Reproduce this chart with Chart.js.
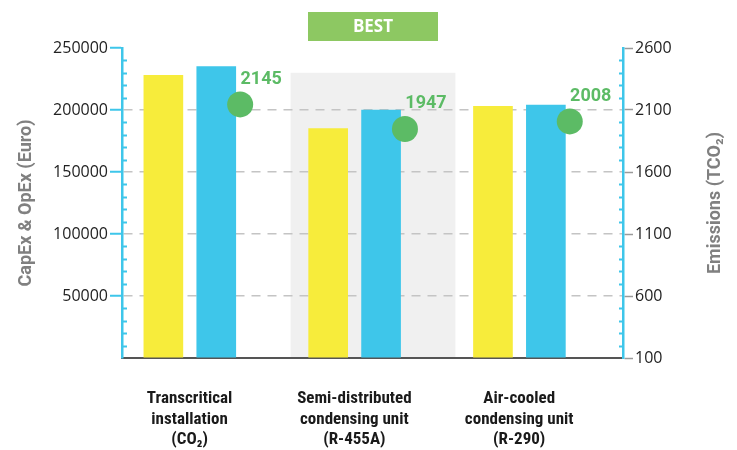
<!DOCTYPE html>
<html lang="en">
<head>
    <meta charset="UTF-8">
    <title>CapEx & OpEx vs Emissions</title>
    <style>
        body {
            margin: 0;
            padding: 0;
            background: #ffffff;
        }
        canvas {
            display: block;
        }
    </style>
</head>
<body>
    <canvas id="costChart" width="737" height="450"></canvas>
    <script src="https://cdn.jsdelivr.net/npm/chart.js"></script>
    <script>
        // data
        const categories = [
            ['Transcritical', 'installation', '(CO\u2082)'],
            ['Semi-distributed', 'condensing unit', '(R-455A)'],
            ['Air-cooled', 'condensing unit', '(R-290)']
        ];
        const costYellow = [228000, 185000, 203000];
        const costBlue = [235000, 200000, 204000];
        const emissions = [2145, 1947, 2008];
        const costTicks = [0, 50000, 100000, 150000, 200000, 250000];
        const emissionTicks = [100, 600, 1100, 1600, 2100, 2600];
        const bestIndex = 1;

        const BLUE = '#3ec6ea';
        const YELLOW = '#f7ec3b';
        const GREEN = '#5cbb65';
        const GREY_TITLE = '#808080';

        // visible category range, and where each mark sits inside a category
        const X_MIN = -0.41, X_MAX = 2.63;
        const SHIFT_YELLOW = -0.159, SHIFT_BLUE = 0.162, SHIFT_DOT = 0.307;
        const indexTicks = scale => { scale.ticks = categories.map((c, i) => ({ value: i })); };
        const hiddenAxis = shift => ({
            type: 'linear',
            display: false,
            offset: false,
            min: X_MIN - shift,
            max: X_MAX - shift,
            afterBuildTicks: indexTicks
        });

        const decor = {
            id: 'decor',
            beforeDraw(chart) {
                const ctx = chart.ctx;
                const x = chart.scales.x;
                const y = chart.scales.y;
                const left = x.getPixelForValue(bestIndex - 0.387);
                const right = x.getPixelForValue(bestIndex + 0.613);
                const top = y.getPixelForValue(230000);
                const bottom = y.getPixelForValue(0);
                ctx.save();
                ctx.fillStyle = '#f0f0f0';
                ctx.fillRect(left, top, right - left, bottom - top);
                // BEST badge
                const cx = (left + right) / 2;
                ctx.fillStyle = '#8dc862';
                ctx.fillRect(cx - 65, 12, 130, 29);
                ctx.fillStyle = '#ffffff';
                ctx.font = 'bold 17px "Open Sans"';
                ctx.textAlign = 'center';
                ctx.textBaseline = 'middle';
                ctx.fillText('BEST', cx, 27);
                ctx.restore();
            },
            afterDatasetsDraw(chart) {
                const ctx = chart.ctx;
                const area = chart.chartArea;
                const y = chart.scales.y;
                const y2 = chart.scales.y2;
                ctx.save();

                // minor ticks on both axes
                ctx.strokeStyle = BLUE;
                ctx.lineWidth = 2;
                ctx.beginPath();
                for (let v = 10000; v < 250000; v += 10000) {
                    if (v % 50000 === 0) continue;
                    const py = Math.round(y.getPixelForValue(v)) + 0.5;
                    ctx.moveTo(area.left, py);
                    ctx.lineTo(area.left + 5, py);
                }
                for (let v = 200; v < 2600; v += 100) {
                    if ((v - 100) % 500 === 0) continue;
                    const py = Math.round(y2.getPixelForValue(v)) + 0.5;
                    ctx.moveTo(area.right - 4, py);
                    ctx.lineTo(area.right, py);
                }
                ctx.stroke();

                // emission value labels
                const meta = chart.getDatasetMeta(2);
                ctx.fillStyle = GREEN;
                ctx.font = 'bold 18px Roboto';
                ctx.textAlign = 'center';
                ctx.textBaseline = 'middle';
                meta.data.forEach((pt, i) => {
                    ctx.fillText(emissions[i], pt.x + 21, pt.y - 25);
                });

                // right axis title, reading bottom to top
                ctx.translate(715, (area.top + area.bottom) / 2);
                ctx.rotate(-Math.PI / 2);
                ctx.fillStyle = GREY_TITLE;
                ctx.font = 'bold 18px Roboto';
                ctx.fillText('Emissions (TCO\u2082)', 0, 0);
                ctx.restore();
            }
        };

        const ctx = document.getElementById('costChart').getContext('2d');
        new Chart(ctx, {
            type: 'bar',
            data: {
                datasets: [
                    {
                        data: categories.map((c, i) => ({ x: i, y: costYellow[i] })),
                        backgroundColor: YELLOW,
                        xAxisID: 'xYellow',
                        yAxisID: 'y',
                        grouped: false,
                        barThickness: 39,
                        order: 2
                    },
                    {
                        data: categories.map((c, i) => ({ x: i, y: costBlue[i] })),
                        backgroundColor: BLUE,
                        xAxisID: 'xBlue',
                        yAxisID: 'y',
                        grouped: false,
                        barThickness: 39,
                        order: 2
                    },
                    {
                        type: 'line',
                        data: categories.map((c, i) => ({ x: i, y: emissions[i] })),
                        showLine: false,
                        pointRadius: 13,
                        pointBackgroundColor: GREEN,
                        pointBorderWidth: 0,
                        xAxisID: 'xDot',
                        yAxisID: 'y2',
                        order: 1
                    }
                ]
            },
            options: {
                responsive: false,
                animation: false,
                layout: {
                    padding: { top: 48, left: 0, right: 0, bottom: 0 }
                },
                plugins: {
                    legend: { display: false },
                    tooltip: { enabled: false }
                },
                scales: {
                    x: {
                        type: 'linear',
                        offset: false,
                        min: X_MIN,
                        max: X_MAX,
                        afterBuildTicks: indexTicks,
                        afterFit: scale => { scale.height = 92; },
                        ticks: {
                            callback: value => categories[value],
                            autoSkip: false,
                            maxRotation: 0,
                            padding: 23,
                            color: '#1a1a1a',
                            font: { family: '"Roboto Condensed", "Liberation Sans Narrow", Roboto', size: 17, weight: 'bold', lineHeight: 1.2 }
                        },
                        grid: { display: false },
                        border: { color: '#555555', width: 2 }
                    },
                    xYellow: hiddenAxis(SHIFT_YELLOW),
                    xBlue: hiddenAxis(SHIFT_BLUE),
                    xDot: hiddenAxis(SHIFT_DOT),
                    y: {
                        position: 'left',
                        min: 0,
                        max: 250000,
                        afterBuildTicks: scale => {
                            scale.ticks = costTicks.map(v => ({ value: v }));
                        },
                        afterFit: scale => { scale.width = 122; },
                        ticks: {
                            callback: value => value === 0 ? '' : String(value),
                            padding: 2,
                            color: '#222222',
                            font: { family: '"Open Sans"', size: 16 }
                        },
                        grid: {
                            color: c => (c.tick && (c.tick.value === 0 || c.tick.value === 250000)) ? 'rgba(0,0,0,0)' : '#c4c4c4',
                            tickColor: c => (c.tick && c.tick.value === 0) ? 'rgba(0,0,0,0)' : BLUE,
                            tickLength: 12,
                            tickWidth: 2,
                            lineWidth: 1.5
                        },
                        border: { color: BLUE, width: 2.5, dash: [9, 7] },
                        title: {
                            display: true,
                            text: 'CapEx & OpEx (Euro)',
                            color: GREY_TITLE,
                            padding: { top: 16, bottom: 4 },
                            font: { family: 'Roboto', size: 18, weight: 'bold' }
                        }
                    },
                    y2: {
                        position: 'right',
                        min: 100,
                        max: 2600,
                        afterBuildTicks: scale => {
                            scale.ticks = emissionTicks.map(v => ({ value: v }));
                        },
                        afterFit: scale => { scale.width = 114; },
                        ticks: {
                            callback: value => String(value),
                            padding: 2,
                            color: '#222222',
                            font: { family: '"Open Sans"', size: 16 }
                        },
                        grid: {
                            drawOnChartArea: false,
                            tickColor: '#9a9a9a',
                            tickLength: 10,
                            tickWidth: 1.5
                        },
                        border: { color: BLUE, width: 2.5 }
                    }
                }
            },
            plugins: [decor]
        });
    </script>
</body>
</html>
